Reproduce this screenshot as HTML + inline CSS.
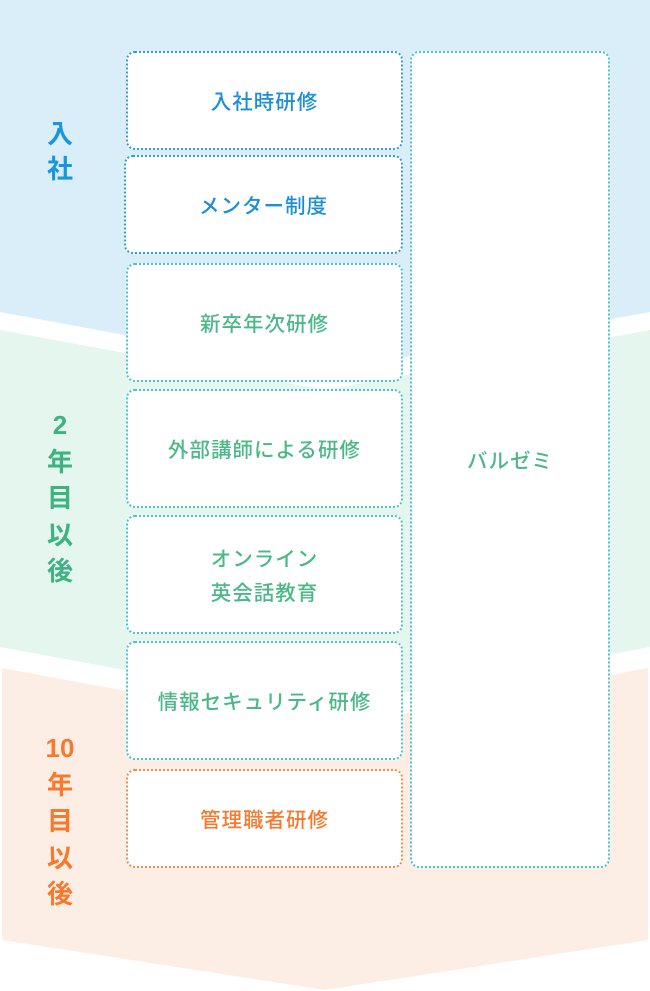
<!DOCTYPE html>
<html><head><meta charset="utf-8"><style>
body{margin:0;width:650px;height:991px;position:relative;background:#fff;overflow:hidden;font-family:"Liberation Sans","Noto Sans CJK JP",sans-serif}
svg.bg{position:absolute;left:0;top:0}
.b{position:absolute;box-sizing:border-box;background:#fff;border:2px dotted;border-radius:9px;display:flex;align-items:center;justify-content:center;text-align:center;font-size:20.5px;line-height:34px;letter-spacing:1px;font-weight:500;padding-top:5px}
.bl{border-color:#2b9de0;color:#1a8fd8}
.gr{border-color:#45c4d0;color:#4cb88a}
.or{border-color:#f48a45;color:#f57a2e}
.lab{position:absolute;left:35px;width:50px;text-align:center;font-weight:bold;font-size:26px;line-height:36.5px}
</style></head><body>
<svg class="bg" width="650" height="991">
<polygon points="0,0 650,0 650,312 325,372 0,312" fill="#daeef9"/>
<polygon points="0,330 325,390 650,330 650,647 325,707 0,647" fill="#e4f6ee"/>
<polygon points="2,668 325,728 648,668 648,940 325,990 2,940" fill="#fdeee5"/>
</svg>
<div class="lab" style="top:117px;color:#1a96dc;line-height:35px">入<br>社</div>
<div class="lab" style="top:407px;color:#3db382">2<br>年<br>目<br>以<br>後</div>
<div class="lab" style="top:730px;color:#f57a2e">10<br>年<br>目<br>以<br>後</div>
<div class="b bl" style="left:126px;top:51px;width:277px;height:99px">入社時研修</div>
<div class="b bl" style="left:124px;top:155px;width:279px;height:99px">メンター制度</div>
<div class="b gr" style="left:126px;top:263px;width:277px;height:119px">新卒年次研修</div>
<div class="b gr" style="left:126px;top:389px;width:277px;height:119px">外部講師による研修</div>
<div class="b gr" style="left:126px;top:515px;width:277px;height:119px">オンライン<br>英会話教育</div>
<div class="b gr" style="left:126px;top:641px;width:277px;height:119px">情報セキュリティ研修</div>
<div class="b or" style="left:126px;top:769px;width:277px;height:99px">管理職者研修</div>
<div class="b gr" style="left:410px;top:51px;width:200px;height:817px">バルゼミ</div>
</body></html>
